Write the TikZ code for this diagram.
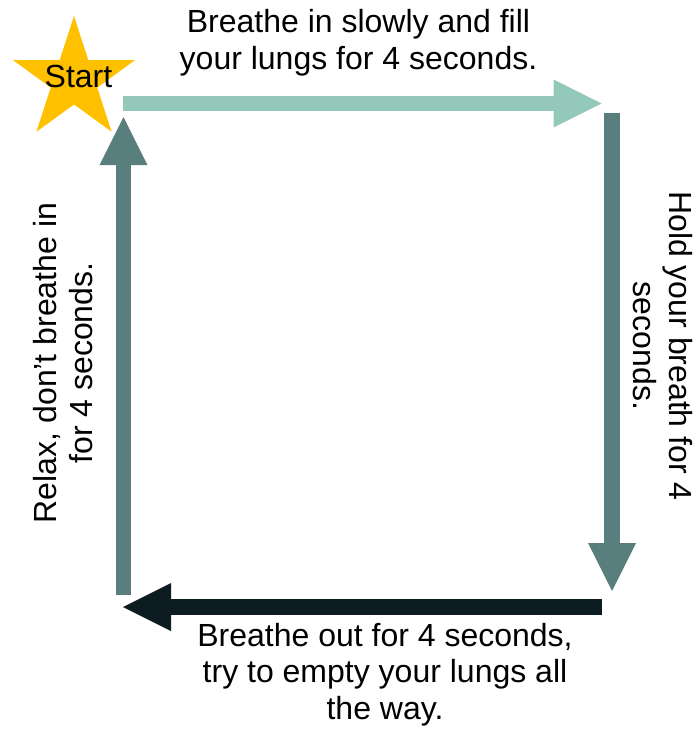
\documentclass[tikz,border=0pt]{standalone}
\usepackage{fontspec}
\setmainfont{Liberation Sans}
\usetikzlibrary{arrows.meta,shapes.geometric}
\definecolor{inhale}{HTML}{94C8BB}
\definecolor{holdgrey}{HTML}{587F7D}
\definecolor{exhale}{HTML}{0D1C20}
\definecolor{startgold}{HTML}{FFC000}

\begin{document}
\begin{tikzpicture}[x=1pt,y=-1pt,
  breath/.style={line width=15.5pt,-{Triangle[width=48pt,length=48pt,line width=0pt]}},
  cue/.style={inner sep=0pt,align=center,font=\fontsize{32}{36.8}\selectfont}]
\path[use as bounding box] (0,0) rectangle (698,729);
% start marker
\node[star,star points=5,star point ratio=2.618,minimum size=128pt,inner sep=0pt,fill=startgold] (startstar) at (74,80) {};
\node[cue,anchor=base] (starttext) at (78.5,87) {Start};
% ends of the four arrows
\coordinate (inA) at (123,103.5);
\coordinate (inB) at (601.7,103.5);
\coordinate (holdA) at (612,113);
\coordinate (holdB) at (612,591);
\coordinate (outA) at (601.7,607);
\coordinate (outB) at (123,607);
\coordinate (restA) at (123.5,595);
\coordinate (restB) at (123.5,117);
\draw[breath,inhale] (inA) -- (inB);
\draw[breath,holdgrey] (holdA) -- (holdB);
\draw[breath,exhale] (outA) -- (outB);
\draw[breath,holdgrey] (restA) -- (restB);
% the four steps
\node[cue] (intext) at (358.5,43) {Breathe in slowly and fill\\your lungs for 4 seconds.};
\node[cue,rotate=-90] (holdtext) at (663,346) {Hold your breath for 4\\seconds.};
\node[cue,rotate=90] (resttext) at (63,363) {Relax, don’t breathe in\\for 4 seconds.};
\node[cue] (outtext) at (385,674.6) {Breathe out for 4 seconds,\\try to empty your lungs all\\the way.};
\end{tikzpicture}
\end{document}
